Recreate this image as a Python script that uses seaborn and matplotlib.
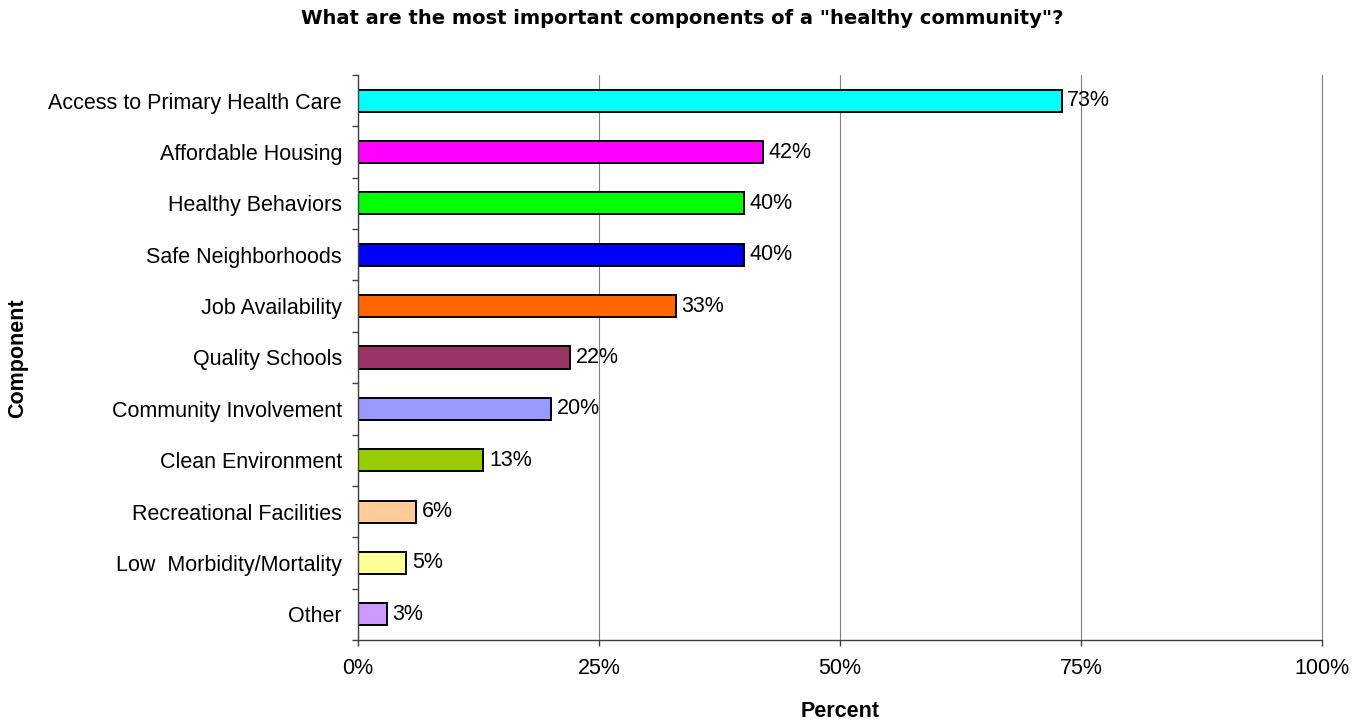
import matplotlib
matplotlib.use("Agg")
import matplotlib.pyplot as plt
import seaborn as sns
import pandas as pd
from matplotlib.ticker import FixedLocator, FuncFormatter

categories = ["Access to Primary Health Care", "Affordable Housing", "Healthy Behaviors",
              "Safe Neighborhoods", "Job Availability", "Quality Schools",
              "Community Involvement", "Clean Environment", "Recreational Facilities",
              "Low  Morbidity/Mortality", "Other"]
values = [73, 42, 40, 40, 33, 22, 20, 13, 6, 5, 3]
colors = ["#00FFFF", "#FF00FF", "#00FF00", "#0000FF", "#FF6600", "#993366",
          "#9999FF", "#99CC00", "#FFCC99", "#FFFF99", "#CC99FF"]
xticks = [0, 25, 50, 75, 100]

sns.set_style("white")
plt.rcParams['font.family'] = ['Liberation Sans', 'DejaVu Sans']
plt.rcParams['text.color'] = 'black'
plt.rcParams['xtick.color'] = 'black'
plt.rcParams['ytick.color'] = 'black'
plt.rcParams['xtick.labelcolor'] = 'black'
plt.rcParams['ytick.labelcolor'] = 'black'

df = pd.DataFrame({"Component": categories, "Percent": values})

FS = 15.5

fig = plt.figure(figsize=(13.65, 7.22), dpi=100)
ax = fig.add_axes([0.2623, 0.1136, 0.7062, 0.7825])

sns.barplot(data=df, x="Percent", y="Component", hue="Component", palette=colors,
            orient="h", width=0.43, edgecolor="black", linewidth=1.4,
            legend=False, ax=ax, saturation=1)

ax.set_xlim(0, 100)
ax.set_ylim(len(categories) - 0.5, -0.5)
ax.xaxis.set_major_locator(FixedLocator(xticks))
ax.xaxis.set_major_formatter(FuncFormatter(lambda v, p: f"{int(v)}%"))
ax.grid(axis="x", color="#808080", linewidth=0.8)
ax.grid(axis="y", visible=False)
ax.set_axisbelow(True)

for i, v in enumerate(values):
    ax.annotate(f"{v}%", xy=(v, i), xytext=(4, 0), textcoords="offset points",
                va="center", ha="left", fontsize=FS, color="black")

ax.yaxis.set_major_locator(FixedLocator(range(len(categories))))
ax.set_yticklabels(categories, fontsize=FS)
ax.tick_params(axis="y", which="major", left=False, length=0, pad=11.5)
ax.yaxis.set_minor_locator(FixedLocator([i - 0.5 for i in range(len(categories) + 1)]))
ax.tick_params(axis="y", which="minor", left=True, length=4.5, direction="out",
               color="#404040", width=1)
ax.tick_params(axis="x", which="major", bottom=True, length=4, direction="out",
               color="#404040", width=1, labelsize=FS, pad=9)

ax.spines["top"].set_visible(False)
ax.spines["right"].set_color("#808080")
ax.spines["right"].set_linewidth(0.8)
for s in ["left", "bottom"]:
    ax.spines[s].set_color("#404040")
    ax.spines[s].set_linewidth(1)

ax.set_xlabel("")
ax.set_ylabel("")
fig.text(0.6157, 0.014, "Percent", fontsize=FS, fontweight="bold",
         ha="center", va="center", color="black")
fig.text(0.0132, 0.504, "Component", fontsize=FS, fontweight="bold",
         ha="center", va="center", rotation=90, color="black")

fig.text(0.5, 0.975, 'What are the most important components of a "healthy community"?',
         fontsize=14, fontweight="bold", ha="center", va="center",
         family=["DejaVu Sans"], color="black")

fig.savefig("out.png", dpi=100)
